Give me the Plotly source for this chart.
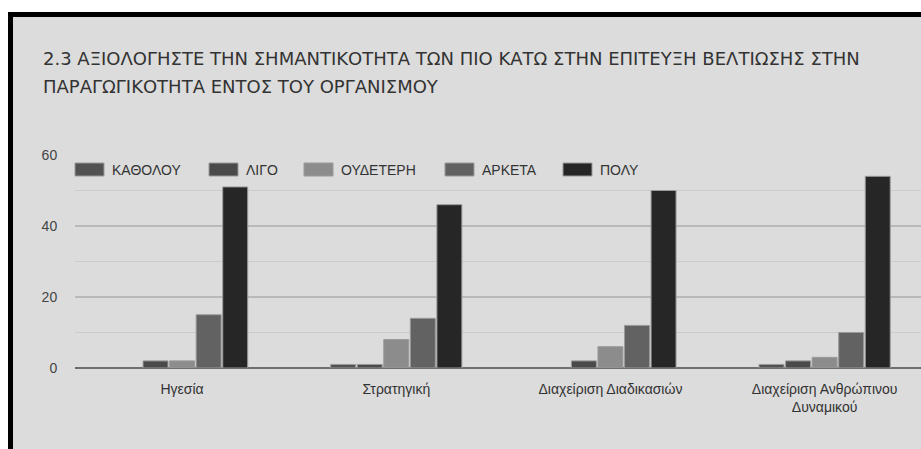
import plotly.graph_objects as go

# --- data -------------------------------------------------------------
categories = ["Ηγεσία", "Στρατηγική", "Διαχείριση Διαδικασιών",
              "Διαχείριση Ανθρώπινου<br>Δυναμικού"]
series_names = ["ΚΑΘΟΛΟΥ", "ΛΙΓΟ", "ΟΥΔΕΤΕΡΗ", "ΑΡΚΕΤΑ", "ΠΟΛΥ"]
katholou = [0, 1, 0, 1]
ligo = [2, 1, 2, 2]
oudeteri = [2, 8, 6, 3]
arketa = [15, 14, 12, 10]
poly = [51, 46, 50, 54]
y_ticks = [0, 20, 40, 60]
title_lines = [
    "2.3 ΑΞΙΟΛΟΓΗΣΤΕ ΤΗΝ ΣΗΜΑΝΤΙΚΟΤΗΤΑ ΤΩΝ ΠΙΟ ΚΑΤΩ ΣΤΗΝ ΕΠΙΤΕΥΞΗ ΒΕΛΤΙΩΣΗΣ ΣΤΗΝ",
    "ΠΑΡΑΓΩΓΙΚΟΤΗΤΑ ΕΝΤΟΣ ΤΟΥ ΟΡΓΑΝΙΣΜΟΥ",
]

# --- styling ----------------------------------------------------------
colors = ["#525252", "#4a4a4a", "#8c8c8c", "#626262", "#262626"]
W, H = 921, 449
L, R, T, B = 75, 0, 155, 81
PW, PH = W - L - R, H - T - B
BG = "#dcdcdc"
AXIS_FONT = "Liberation Sans, Arial, sans-serif"
TITLE_FONT = "DejaVu Sans, sans-serif"


def px(x):
    """pixel x -> paper x"""
    return (x - L) / PW


def py(y):
    """pixel y (from top) -> paper y"""
    return (H - B - y) / PH


fig = go.Figure()
for name, vals, col in zip(series_names,
                           [katholou, ligo, oudeteri, arketa, poly], colors):
    fig.add_trace(go.Bar(
        x=categories, y=vals, name=name, showlegend=False,
        marker=dict(color=col,
                    line=dict(color="#9a9a9a",
                              width=[1 if v > 0 else 0 for v in vals])),
    ))

shapes = []
annotations = []

# custom legend row across the top of the plot area
legend_x = [75, 209, 304, 445, 563]
for name, col, x0 in zip(series_names, colors, legend_x):
    shapes.append(dict(type="rect", xref="paper", yref="paper",
                       x0=px(x0), x1=px(x0 + 29), y0=py(176), y1=py(163),
                       fillcolor=col, line=dict(color="#9a9a9a", width=1)))
    annotations.append(dict(text=name, xref="paper", yref="paper",
                            x=px(x0 + 35), y=py(169.5), xanchor="left",
                            yanchor="middle", showarrow=False,
                            font=dict(family=AXIS_FONT, size=14, color="#333333")))

# title, two lines
for i, line in enumerate(title_lines):
    annotations.append(dict(text=line, xref="paper", yref="paper",
                            x=px(41), y=py(59 + 27 * i), xanchor="left",
                            yanchor="middle", showarrow=False,
                            font=dict(family=TITLE_FONT, size=18, color="#333333")))

# frame: white outer margin and black border on top/left
shapes += [
    dict(type="rect", xref="paper", yref="paper", layer="above",
         x0=px(0), x1=px(W), y0=py(12), y1=py(-2),
         fillcolor="white", line=dict(width=0)),
    dict(type="rect", xref="paper", yref="paper", layer="above",
         x0=px(-2), x1=px(8), y0=py(H + 2), y1=py(-2),
         fillcolor="white", line=dict(width=0)),
    dict(type="rect", xref="paper", yref="paper", layer="above",
         x0=px(8), x1=px(W + 2), y0=py(17), y1=py(12),
         fillcolor="black", line=dict(width=0)),
    dict(type="rect", xref="paper", yref="paper", layer="above",
         x0=px(8), x1=px(13), y0=py(H + 2), y1=py(12),
         fillcolor="black", line=dict(width=0)),
]

fig.update_layout(
    width=W, height=H,
    margin=dict(l=L, r=R, t=T, b=B, pad=0),
    paper_bgcolor=BG, plot_bgcolor=BG,
    barmode="group", bargap=0.38, bargroupgap=0.06,
    showlegend=False,
    shapes=shapes, annotations=annotations,
    xaxis=dict(
        type="category", range=[-0.5, 3.45],
        showgrid=False, showline=False, zeroline=False,
        ticks="outside", ticklen=8, tickcolor="rgba(0,0,0,0)",
        tickfont=dict(family=AXIS_FONT, size=14, color="#333333"),
    ),
    yaxis=dict(
        range=[0, 60], tickvals=y_ticks,
        showgrid=True, gridcolor="#b9b9b9", gridwidth=1.5,
        minor=dict(dtick=10, showgrid=True, gridcolor="#cbcbcb", gridwidth=1),
        zeroline=True, zerolinecolor="#6e6e6e", zerolinewidth=2,
        showline=False,
        ticks="outside", ticklen=14, tickcolor="rgba(0,0,0,0)",
        tickfont=dict(family=AXIS_FONT, size=14, color="#444444"),
    ),
)

fig.write_html("out.html")
